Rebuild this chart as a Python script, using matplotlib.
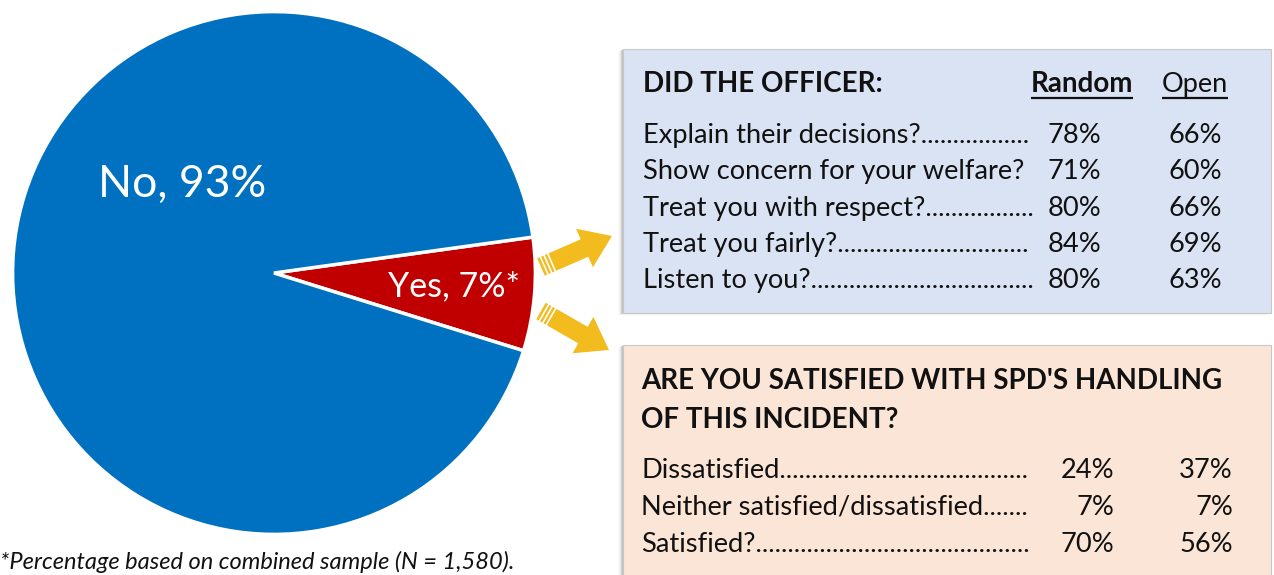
import matplotlib
matplotlib.use("Agg")
import matplotlib.pyplot as plt
from matplotlib.patches import Rectangle, FancyArrow
import numpy as np

# pie shares
pie_labels = ["Yes, 7%*", "No, 93%"]
pie_values = [7, 93]
pie_colors = ["#c00000", "#0070c0"]

# officer behaviour table
officer_items = ["Explain their decisions?",
                 "Show concern for your welfare?",
                 "Treat you with respect?",
                 "Treat you fairly?",
                 "Listen to you?"]
officer_random = [78, 71, 80, 84, 80]
officer_open = [66, 60, 66, 69, 63]

# satisfaction table
sat_items = ["Dissatisfied",
             "Neither satisfied/dissatisfied",
             "Satisfied?"]
sat_random = [24, 7, 70]
sat_open = [37, 7, 56]

W, H = 1274, 575
plt.rcParams['font.family'] = ['Lato', 'DejaVu Sans']
fig = plt.figure(figsize=(W / 100, H / 100), dpi=100)

# pie, centre (274, 273) px, radius 264 px
cx, cy, r = 274, 273, 264
pax = fig.add_axes([(cx - r) / W, (H - cy - r) / H, 2 * r / W, 2 * r / H])
start = -17.3
wedges, _ = pax.pie(pie_values, colors=pie_colors, startangle=start,
                    counterclock=True, radius=1,
                    wedgeprops=dict(edgecolor="white", linewidth=2.5))
pax.set_xlim(-1.01, 1.01)
pax.set_ylim(-1.01, 1.01)
pax.set_aspect("equal")
pax.axis("off")
pax.text(0.69, -0.05, pie_labels[0], color="white", fontsize=24.5,
         ha="center", va="center")
pax.text(-0.35, 0.34, pie_labels[1], color="white", fontsize=32,
         ha="center", va="center")

# overlay in pixel coordinates
ax = fig.add_axes([0, 0, 1, 1])
ax.set_xlim(0, W)
ax.set_ylim(H, 0)
ax.axis("off")
ax.patch.set_alpha(0)


def box(x0, y0, x1, y1, color):
    for k, a in zip(range(6, 0, -1), [0.04, 0.05, 0.07, 0.09, 0.12, 0.16]):
        ax.add_patch(Rectangle((x0 - k * 0.8, y0 + k * 0.3), x1 - x0, y1 - y0,
                               facecolor="#707070", edgecolor="none", alpha=a))
    ax.add_patch(Rectangle((x0, y0), x1 - x0, y1 - y0, facecolor=color,
                           edgecolor="#c8c8c8", linewidth=0.8))


box(623, 49, 1271, 313, "#dae3f3")
box(623, 345, 1271, 590, "#fbe5d6")


def arrow(x0, y0, x1, y1):
    dx, dy = x1 - x0, y1 - y0
    L = np.hypot(dx, dy)
    ax.add_patch(FancyArrow(x0, y0, dx, dy, width=19, head_width=42,
                            head_length=30, length_includes_head=True,
                            color="#f2bc1e", linewidth=0))
    ux, uy = dx / L, dy / L
    px, py = -uy, ux
    for off in (3.5, 7.5, 11.5):
        mx, my = x0 + ux * off, y0 + uy * off
        ax.plot([mx - px * 12, mx + px * 12], [my - py * 12, my + py * 12],
                color="white", linewidth=1.2, solid_capstyle="butt")


arrow(541, 267, 612, 236)
arrow(541, 311, 609, 350)

fs = 19.6
fb = 20
tc = "#111111"
renderer = fig.canvas.get_renderer()
inv = ax.transData.inverted()


def right_edge(t):
    bb = t.get_window_extent(renderer)
    return inv.transform([[bb.x1, bb.y0]])[0][0]


def leader(x, y, label, end):
    # label followed by dot leaders up to x = end
    t = ax.text(x, y, label, fontsize=fs, color=tc)
    s = label
    while end is not None:
        t.set_text(s + ".")
        if right_edge(t) > end:
            t.set_text(s)
            break
        s += "."
    return t


ax.text(643, 92, "DID THE OFFICER:", fontsize=fb, fontweight="bold", color=tc)
hr = ax.text(1133, 92, "Random", fontsize=fb, fontweight="bold", color=tc,
             ha="right")
ho = ax.text(1228, 92, "Open", fontsize=fs, color=tc, ha="right")
for t in (hr, ho):
    bb = t.get_window_extent(renderer)
    (xa, _), (xb, _) = inv.transform([[bb.x0, bb.y0], [bb.x1, bb.y0]])
    ax.plot([xa, xb], [98, 98], color=tc, linewidth=1.6,
            solid_capstyle="butt")

officer_end = [1034, None, 1034, 1034, 1034]
for i, (lab, a, b) in enumerate(zip(officer_items, officer_random, officer_open)):
    y = 143 + i * 36.3
    leader(643, y, lab, officer_end[i])
    ax.text(1101, y, f"{a}%", fontsize=fs, color=tc, ha="right")
    ax.text(1222, y, f"{b}%", fontsize=fs, color=tc, ha="right")

ax.text(641, 389, "ARE YOU SATISFIED WITH SPD'S HANDLING", fontsize=fb,
        fontweight="bold", color=tc)
ax.text(641, 428, "OF THIS INCIDENT?", fontsize=fb, fontweight="bold", color=tc)
sat_end = [1033, 1028, 1033]
for i, (lab, a, b) in enumerate(zip(sat_items, sat_random, sat_open)):
    y = 478 + i * 37
    leader(641, y, lab, sat_end[i])
    ax.text(1114, y, f"{a}%", fontsize=fs, color=tc, ha="right")
    ax.text(1233, y, f"{b}%", fontsize=fs, color=tc, ha="right")

ax.text(0, 569, "*Percentage based on combined sample (N = 1,580).",
        fontsize=17, style="italic", color=tc)

fig.savefig("out.png", dpi=100)
